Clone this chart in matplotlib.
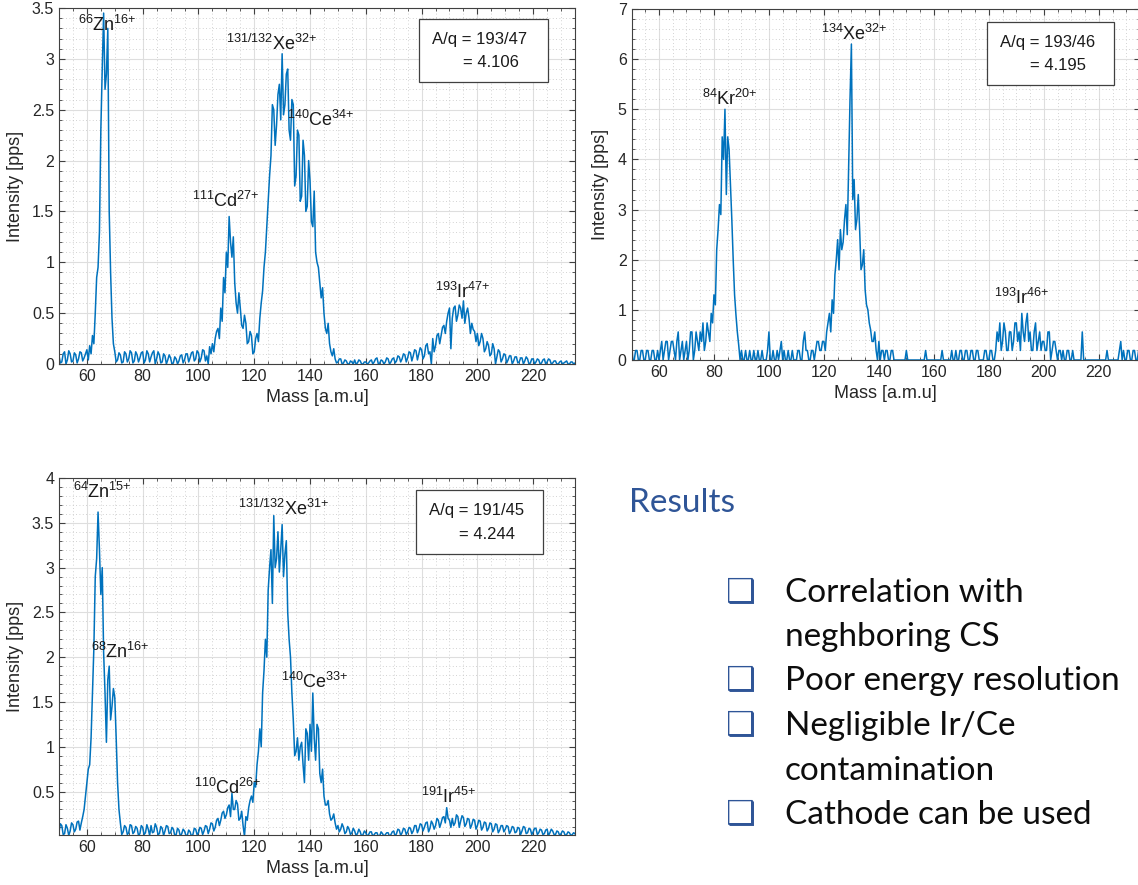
import numpy as np
import matplotlib
matplotlib.use("Agg")
import matplotlib.pyplot as plt
from matplotlib.ticker import MultipleLocator, FormatStrFormatter
from matplotlib.patches import Rectangle

plt.rcParams['font.family'] = ['Liberation Sans', 'DejaVu Sans']
plt.rcParams['mathtext.default'] = 'regular'

# mass channels: whole amu and the half amu in between
mass = np.arange(50, 236)

# A/q = 193/47
counts_47 = [
    0.08, 0.02, 0.12, 0.04, 0.10, 0.03, 0.09, 0.05, 0.11, 0.06,
    0.14, 0.18, 0.28, 0.50, 0.95, 2.30, 3.45, 2.85, 1.50, 0.45,
    0.12, 0.04, 0.09, 0.02, 0.10, 0.05, 0.11, 0.03, 0.09, 0.06,
    0.12, 0.04, 0.10, 0.07, 0.13, 0.05, 0.09, 0.02, 0.08, 0.04,
    0.06, 0.01, 0.05, 0.03, 0.09, 0.04, 0.10, 0.06, 0.12, 0.05,
    0.11, 0.06, 0.13, 0.08, 0.17, 0.20, 0.25, 0.35, 0.55, 0.85,
    1.10, 1.45, 1.05, 0.80, 0.50, 0.55, 0.35, 0.40, 0.22, 0.28,
    0.12, 0.30, 0.45, 0.72, 1.10, 1.60, 2.05, 2.50, 2.35, 2.75,
    3.05, 2.55, 2.90, 2.20, 2.55, 1.85, 2.25, 1.65, 2.05, 1.55,
    1.80, 1.35, 1.10, 0.95, 0.65, 0.50, 0.30, 0.20, 0.08, 0.05,
    0.02, 0.05, 0.01, 0.03, 0.00, 0.02, 0.04, 0.01, 0.03, 0.00,
    0.02, 0.01, 0.04, 0.02, 0.06, 0.01, 0.03, 0.02, 0.05, 0.02,
    0.06, 0.03, 0.07, 0.05, 0.09, 0.06, 0.11, 0.08, 0.13, 0.10,
    0.14, 0.08, 0.20, 0.12, 0.25, 0.18, 0.30, 0.28, 0.38, 0.42,
    0.55, 0.45, 0.57, 0.48, 0.55, 0.62, 0.50, 0.45, 0.40, 0.32,
    0.30, 0.22, 0.25, 0.15, 0.18, 0.10, 0.15, 0.07, 0.12, 0.05,
    0.09, 0.04, 0.08, 0.03, 0.07, 0.02, 0.06, 0.03, 0.05, 0.01,
    0.05, 0.02, 0.04, 0.01, 0.05, 0.02, 0.04, 0.01, 0.03, 0.00,
    0.03, 0.01, 0.03, 0.00, 0.02, 0.01,
]
counts_47_half = [
    0.01, 0.10, 0.00, 0.13, 0.02, 0.11, 0.01, 0.12, 0.03, 0.10,
    0.04, 0.10, 0.20, 0.85, 1.30, 2.90, 2.70, 3.30, 0.90, 0.20,
    0.02, 0.11, 0.01, 0.12, 0.02, 0.13, 0.01, 0.12, 0.02, 0.11,
    0.01, 0.13, 0.02, 0.11, 0.00, 0.12, 0.01, 0.10, 0.00, 0.09,
    0.00, 0.07, 0.00, 0.08, 0.01, 0.10, 0.02, 0.11, 0.03, 0.13,
    0.02, 0.14, 0.03, 0.00, 0.10, 0.12, 0.32, 0.25, 0.42, 0.70,
    0.95, 1.20, 1.25, 0.60, 0.70, 0.38, 0.48, 0.20, 0.32, 0.10,
    0.25, 0.22, 0.60, 0.95, 1.35, 1.85, 2.55, 2.15, 2.65, 2.40,
    2.45, 2.85, 2.30, 2.60, 1.75, 2.30, 1.60, 2.20, 1.50, 2.00,
    1.40, 1.70, 1.00, 0.80, 0.75, 0.35, 0.40, 0.12, 0.15, 0.01,
    0.05, 0.00, 0.04, 0.00, 0.03, 0.00, 0.00, 0.04, 0.00, 0.02,
    0.00, 0.03, 0.00, 0.05, 0.00, 0.04, 0.00, 0.06, 0.00, 0.05,
    0.01, 0.08, 0.02, 0.10, 0.02, 0.12, 0.03, 0.14, 0.04, 0.16,
    0.05, 0.18, 0.10, 0.00, 0.12, 0.28, 0.20, 0.36, 0.30, 0.50,
    0.15, 0.55, 0.42, 0.58, 0.45, 0.40, 0.55, 0.30, 0.34, 0.22,
    0.18, 0.30, 0.12, 0.22, 0.08, 0.20, 0.00, 0.14, 0.02, 0.10,
    0.01, 0.08, 0.00, 0.07, 0.01, 0.06, 0.00, 0.07, 0.00, 0.05,
    0.00, 0.05, 0.00, 0.04, 0.00, 0.05, 0.00, 0.03, 0.00, 0.02,
    0.00, 0.02, 0.00, 0.02, 0.00, 0.01,
]

# A/q = 193/46
counts_46 = [
    0.37, 0.00, 0.19, 0.00, 0.19, 0.00, 0.19, 0.00, 0.19, 0.00,
    0.00, 0.37, 0.19, 0.37, 0.19, 0.37, 0.00, 0.56, 0.19, 0.00,
    0.37, 0.19, 0.56, 0.19, 0.37, 0.56, 0.74, 0.37, 0.56, 0.93,
    1.30, 2.20, 3.10, 4.45, 5.00, 4.45, 3.50, 2.00, 0.90, 0.30,
    0.19, 0.00, 0.00, 0.19, 0.00, 0.00, 0.19, 0.00, 0.00, 0.00,
    0.56, 0.00, 0.00, 0.19, 0.19, 0.00, 0.00, 0.19, 0.00, 0.00,
    0.00, 0.19, 0.00, 0.56, 0.19, 0.00, 0.19, 0.19, 0.37, 0.19,
    0.37, 0.56, 0.93, 1.20, 1.70, 2.40, 2.60, 2.35, 3.10, 3.90,
    6.30, 3.60, 2.80, 2.60, 1.90, 1.40, 1.00, 0.60, 0.37, 0.19,
    0.37, 0.19, 0.00, 0.19, 0.00, 0.19, 0.00, 0.00, 0.00, 0.00,
    0.19, 0.00, 0.00, 0.00, 0.00, 0.00, 0.00, 0.19, 0.00, 0.00,
    0.00, 0.00, 0.00, 0.19, 0.00, 0.00, 0.00, 0.00, 0.19, 0.00,
    0.19, 0.00, 0.19, 0.00, 0.19, 0.00, 0.19, 0.00, 0.00, 0.19,
    0.00, 0.19, 0.00, 0.56, 0.74, 0.37, 0.56, 0.19, 0.56, 0.37,
    0.74, 0.56, 0.93, 0.37, 0.93, 0.56, 0.19, 0.74, 0.37, 0.19,
    0.37, 0.19, 0.56, 0.19, 0.37, 0.00, 0.19, 0.19, 0.00, 0.19,
    0.00, 0.00, 0.00, 0.00, 0.56, 0.00, 0.00, 0.00, 0.00, 0.00,
    0.00, 0.00, 0.00, 0.19, 0.00, 0.00, 0.00, 0.00, 0.37, 0.19,
    0.00, 0.19, 0.00, 0.19, 0.00, 0.19,
]
counts_46_half = [
    0.00, 0.19, 0.00, 0.19, 0.00, 0.19, 0.00, 0.19, 0.00, 0.19,
    0.19, 0.00, 0.37, 0.00, 0.37, 0.19, 0.37, 0.00, 0.37, 0.19,
    0.00, 0.56, 0.00, 0.56, 0.19, 0.37, 0.19, 0.74, 0.37, 0.74,
    1.10, 2.60, 2.90, 4.00, 3.30, 4.20, 2.80, 1.30, 0.56, 0.00,
    0.00, 0.19, 0.00, 0.00, 0.19, 0.00, 0.00, 0.19, 0.00, 0.19,
    0.00, 0.19, 0.00, 0.00, 0.37, 0.19, 0.00, 0.00, 0.19, 0.00,
    0.19, 0.00, 0.37, 0.19, 0.00, 0.19, 0.00, 0.37, 0.19, 0.37,
    0.19, 0.74, 0.56, 0.93, 2.00, 1.80, 2.20, 2.80, 2.50, 5.20,
    3.20, 2.60, 3.30, 1.80, 2.20, 1.10, 0.74, 0.37, 0.56, 0.00,
    0.00, 0.19, 0.19, 0.00, 0.19, 0.00, 0.00, 0.00, 0.00, 0.00,
    0.00, 0.00, 0.00, 0.00, 0.00, 0.00, 0.00, 0.00, 0.00, 0.00,
    0.00, 0.00, 0.00, 0.00, 0.00, 0.00, 0.19, 0.00, 0.00, 0.19,
    0.00, 0.19, 0.00, 0.19, 0.00, 0.19, 0.00, 0.00, 0.19, 0.00,
    0.19, 0.00, 0.19, 0.37, 0.19, 0.74, 0.19, 0.56, 0.19, 0.74,
    0.37, 0.19, 0.56, 0.74, 0.37, 0.19, 0.56, 0.19, 0.56, 0.37,
    0.19, 0.56, 0.00, 0.37, 0.19, 0.19, 0.00, 0.00, 0.19, 0.00,
    0.19, 0.00, 0.00, 0.00, 0.00, 0.00, 0.00, 0.00, 0.00, 0.00,
    0.00, 0.00, 0.00, 0.00, 0.00, 0.00, 0.00, 0.19, 0.00, 0.00,
    0.19, 0.00, 0.19, 0.00, 0.19, 0.00,
]

# A/q = 191/45
counts_45 = [
    0.05, 0.12, 0.03, 0.09, 0.06, 0.13, 0.08, 0.17, 0.15, 0.30,
    0.60, 0.80, 1.60, 2.90, 3.62, 2.70, 2.05, 1.05, 1.90, 1.45,
    1.55, 0.60, 0.15, 0.05, 0.10, 0.04, 0.12, 0.05, 0.09, 0.03,
    0.10, 0.04, 0.08, 0.12, 0.05, 0.10, 0.03, 0.09, 0.06, 0.11,
    0.04, 0.08, 0.02, 0.07, 0.03, 0.06, 0.01, 0.05, 0.02, 0.08,
    0.04, 0.09, 0.06, 0.11, 0.08, 0.14, 0.10, 0.20, 0.18, 0.28,
    0.24, 0.35, 0.48, 0.30, 0.36, 0.20, 0.12, 0.22, 0.32, 0.45,
    0.60, 0.80, 1.20, 1.60, 2.20, 2.75, 3.20, 3.58, 3.10, 2.95,
    3.48, 3.15, 2.50, 2.00, 1.30, 0.95, 0.85, 1.05, 0.60, 1.15,
    1.25, 1.60, 0.85, 1.20, 0.60, 0.45, 0.35, 0.25, 0.20, 0.15,
    0.12, 0.08, 0.10, 0.05, 0.08, 0.04, 0.06, 0.03, 0.05, 0.02,
    0.04, 0.02, 0.05, 0.02, 0.04, 0.01, 0.03, 0.02, 0.04, 0.02,
    0.06, 0.03, 0.07, 0.04, 0.08, 0.05, 0.09, 0.06, 0.12, 0.08,
    0.13, 0.10, 0.16, 0.09, 0.14, 0.12, 0.18, 0.15, 0.22, 0.32,
    0.18, 0.20, 0.15, 0.22, 0.17, 0.21, 0.14, 0.19, 0.13, 0.18,
    0.12, 0.17, 0.10, 0.15, 0.09, 0.14, 0.08, 0.13, 0.07, 0.12,
    0.08, 0.11, 0.06, 0.10, 0.05, 0.09, 0.06, 0.10, 0.04, 0.08,
    0.05, 0.09, 0.04, 0.07, 0.03, 0.08, 0.04, 0.06, 0.02, 0.05,
    0.03, 0.05, 0.02, 0.04, 0.02, 0.03,
]
counts_45_half = [
    0.14, 0.02, 0.13, 0.01, 0.15, 0.05, 0.16, 0.07, 0.22, 0.45,
    0.75, 1.10, 2.10, 3.10, 3.20, 3.00, 1.60, 1.75, 1.30, 1.65,
    1.10, 0.30, 0.02, 0.12, 0.02, 0.13, 0.03, 0.11, 0.01, 0.12,
    0.02, 0.13, 0.01, 0.04, 0.14, 0.02, 0.11, 0.01, 0.12, 0.03,
    0.10, 0.01, 0.09, 0.00, 0.08, 0.01, 0.07, 0.00, 0.09, 0.02,
    0.10, 0.02, 0.12, 0.03, 0.15, 0.06, 0.18, 0.12, 0.26, 0.20,
    0.32, 0.22, 0.30, 0.40, 0.18, 0.28, 0.00, 0.18, 0.40, 0.38,
    0.55, 0.95, 1.00, 1.85, 2.00, 3.00, 2.60, 3.00, 3.40, 3.20,
    2.90, 3.30, 2.20, 1.60, 0.90, 1.10, 1.00, 0.80, 1.20, 0.85,
    0.95, 1.10, 1.25, 0.70, 0.75, 0.35, 0.40, 0.18, 0.25, 0.08,
    0.05, 0.14, 0.03, 0.11, 0.02, 0.09, 0.01, 0.08, 0.00, 0.06,
    0.00, 0.05, 0.00, 0.04, 0.00, 0.05, 0.00, 0.04, 0.00, 0.05,
    0.00, 0.08, 0.01, 0.09, 0.02, 0.10, 0.03, 0.12, 0.04, 0.14,
    0.06, 0.15, 0.05, 0.17, 0.08, 0.20, 0.10, 0.21, 0.15, 0.20,
    0.10, 0.12, 0.24, 0.10, 0.23, 0.11, 0.20, 0.09, 0.19, 0.08,
    0.18, 0.07, 0.16, 0.06, 0.15, 0.05, 0.14, 0.04, 0.12, 0.05,
    0.12, 0.03, 0.11, 0.04, 0.10, 0.02, 0.11, 0.03, 0.09, 0.02,
    0.09, 0.02, 0.08, 0.02, 0.07, 0.01, 0.08, 0.02, 0.06, 0.01,
    0.06, 0.01, 0.05, 0.01, 0.04, 0.00,
]

# peak labels: (text, mass, intensity)
labels_47 = [(r'$^{66}$Zn$^{16{+}}$', 56.7, 3.33),
             (r'$^{131/132}$Xe$^{32{+}}$', 110.0, 3.15),
             (r'$^{140}$Ce$^{34{+}}$', 131.9, 2.40),
             (r'$^{111}$Cd$^{27{+}}$', 97.7, 1.60),
             (r'$^{193}$Ir$^{47{+}}$', 184.8, 0.71)]
labels_46 = [(r'$^{84}$Kr$^{20{+}}$', 75.7, 5.21),
             (r'$^{134}$Xe$^{32{+}}$', 119.0, 6.50),
             (r'$^{193}$Ir$^{46{+}}$', 182.0, 1.23)]
labels_45 = [(r'$^{64}$Zn$^{15{+}}$', 55.0, 3.84),
             (r'$^{68}$Zn$^{16{+}}$', 61.3, 2.06),
             (r'$^{131/132}$Xe$^{31{+}}$', 114.2, 3.65),
             (r'$^{140}$Ce$^{33{+}}$', 129.6, 1.72),
             (r'$^{110}$Cd$^{26{+}}$', 98.3, 0.54),
             (r'$^{191}$Ir$^{45{+}}$', 179.7, 0.44)]

aq_47 = ('A/q = 193/47', '= 4.106')
aq_46 = ('A/q = 193/46', '= 4.195')
aq_45 = ('A/q = 191/45', '= 4.244')

results = ['Correlation with', 'neghboring CS', 'Poor energy resolution',
           'Negligible Ir/Ce', 'contamination', 'Cathode can be used']
bullet_lines = [0, 2, 3, 5]

W, H = 1138, 885
fig = plt.figure(figsize=(W / 100, H / 100), dpi=100)


def px_axes(left, top, right, bottom):
    return fig.add_axes([left / W, 1 - bottom / H, (right - left) / W, (bottom - top) / H])


def spectrum(ax, whole, half, ymin, ymax, ymajor, labels, aq, box):
    # interleave whole and half amu channels into one trace
    x = np.column_stack([mass, mass + 0.5]).ravel()
    y = np.column_stack([whole, half]).ravel()
    ax.plot(x, y, color='#0072BD', lw=1.1, zorder=2)
    ax.set_xlim(50, 235)
    ax.set_ylim(ymin, ymax)
    ax.set_xticks(range(60, 221, 20))
    ax.xaxis.set_minor_locator(MultipleLocator(5))
    ax.yaxis.set_major_locator(MultipleLocator(ymajor))
    ax.yaxis.set_minor_locator(MultipleLocator(ymajor / 5))
    ax.yaxis.set_major_formatter(FormatStrFormatter('%g'))
    ax.grid(which='major', color='#dedede', lw=0.8)
    ax.grid(which='minor', color='#c4c4c4', lw=0.6, ls=(0, (1, 3)))
    ax.set_axisbelow(True)
    ax.tick_params(which='both', direction='in', top=True, right=True,
                   labelsize=11.5, color='#404040', labelcolor='#262626')
    ax.tick_params(which='major', length=4)
    ax.tick_params(which='minor', length=2.5)
    for s in ax.spines.values():
        s.set_color('#404040')
        s.set_linewidth(0.8)
    ax.set_xlabel('Mass [a.m.u]', fontsize=13, color='#262626', labelpad=4)
    ax.set_ylabel('Intensity [pps]', fontsize=13, color='#262626', labelpad=6)

    for txt, xm, yv in labels:
        ax.text(xm, yv, txt, fontsize=13, ha='left', va='center', color='#1a1a1a', zorder=4)

    x0, y0, x1, y1 = box
    ax.add_patch(Rectangle((x0, y0), x1 - x0, y1 - y0, transform=ax.transAxes,
                           facecolor='white', edgecolor='#404040', lw=0.9, zorder=5))
    ax.text(x0 + 0.1 * (x1 - x0), y0 + 0.68 * (y1 - y0), aq[0], transform=ax.transAxes,
            fontsize=12, va='center', ha='left', color='#1a1a1a', zorder=6)
    ax.text(x0 + 0.34 * (x1 - x0), y0 + 0.31 * (y1 - y0), aq[1], transform=ax.transAxes,
            fontsize=12, va='center', ha='left', color='#1a1a1a', zorder=6)


ax1 = px_axes(59, 8, 575, 364)
spectrum(ax1, counts_47, counts_47_half, 0, 3.5, 0.5, labels_47, aq_47,
         (0.698, 0.791, 0.948, 0.969))

ax2 = px_axes(631.5, 9, 1140, 360)
spectrum(ax2, counts_46, counts_46_half, 0, 7, 1, labels_46, aq_46,
         (0.699, 0.784, 0.949, 0.963))

ax3 = px_axes(59, 478, 575, 835)
spectrum(ax3, counts_45, counts_45_half, 0.015, 4, 0.5, labels_45, aq_45,
         (0.692, 0.787, 0.938, 0.967))

# results block on the right
fig.text(629 / W, 1 - 512 / H, 'Results', fontsize=24, color='#2F5597',
         family=['Lato', 'DejaVu Sans'], va='baseline')
baselines = [602, 646, 690, 735, 780, 824]
for i, (line, yb) in enumerate(zip(results, baselines)):
    fig.text(785 / W, 1 - yb / H, line, fontsize=24, color='#0d0d0d',
             family=['Lato', 'DejaVu Sans'], va='baseline')
    if i in bullet_lines:
        fig.text(726 / W, 1 - yb / H, '\u2751', fontsize=24, color='#2F5597',
                 family=['DejaVu Sans'], va='baseline')

fig.savefig('out.png', dpi=100)
